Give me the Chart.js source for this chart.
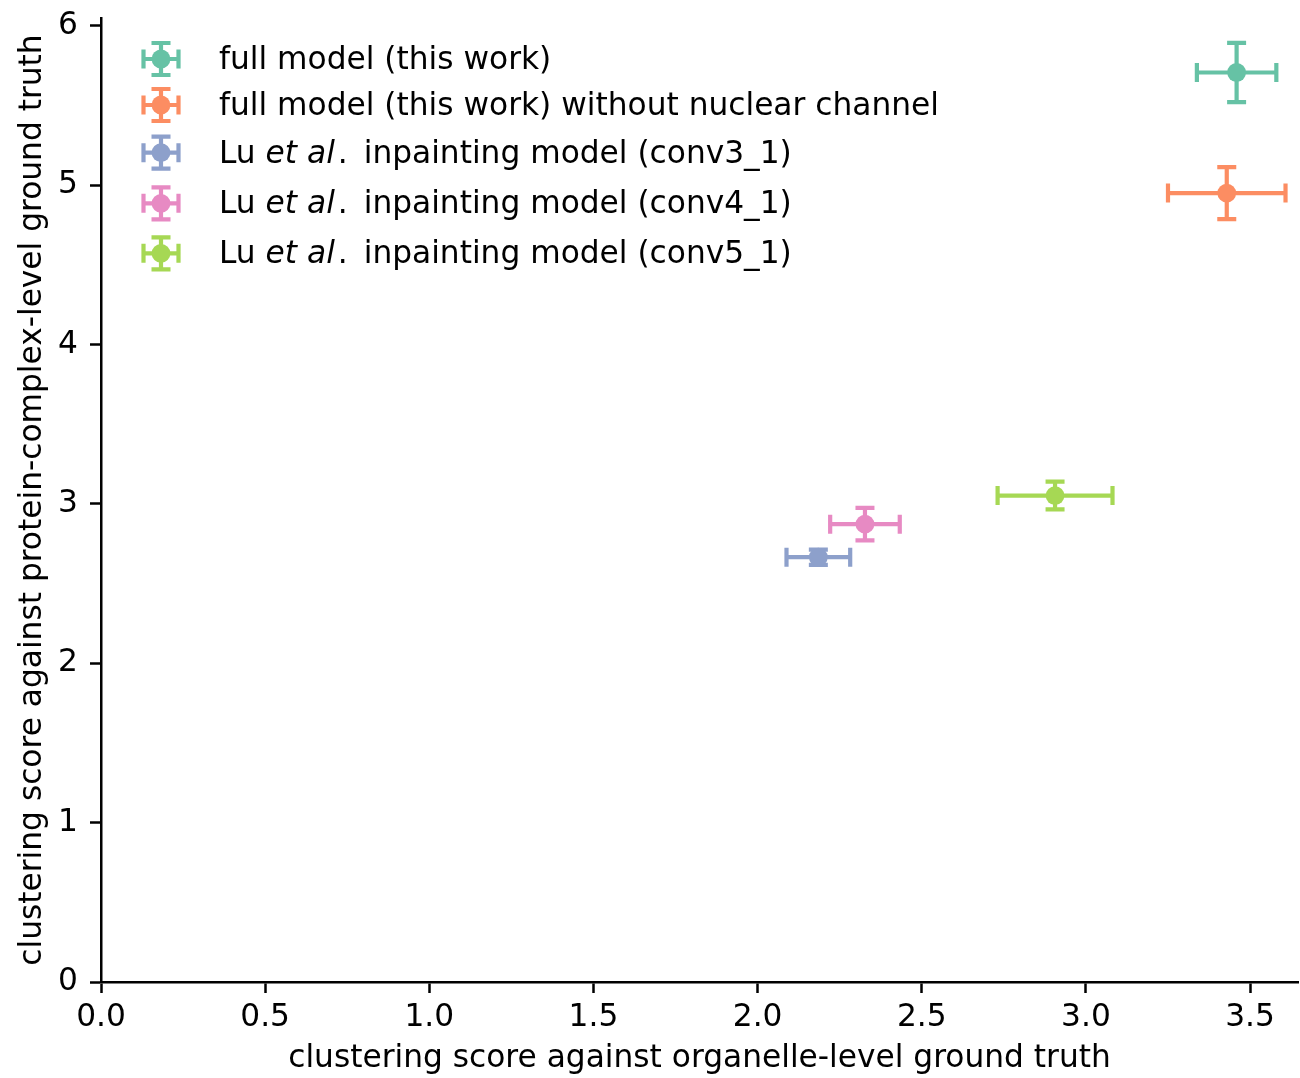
<!DOCTYPE html>
<html>
<head>
<meta charset="utf-8">
<script src="https://cdn.jsdelivr.net/npm/chart.js@4/dist/chart.umd.min.js"></script>
<style>
html,body{margin:0;padding:0;background:#fff;}
#wrap{width:1300px;height:1078px;position:relative;}
</style>
</head>
<body>
<div id="wrap"><canvas id="c" width="1300" height="1078"></canvas></div>
<script>
// ---- data ----
const seriesNames = [
  ["full model (this work)"],
  ["full model (this work) without nuclear channel"],
  ["Lu ", "et al", ".", " inpainting model (conv3_1)"],
  ["Lu ", "et al", ".", " inpainting model (conv4_1)"],
  ["Lu ", "et al", ".", " inpainting model (conv5_1)"]
];
const xValues = [3.459, 3.429, 2.185, 2.327, 2.906];
const yValues = [5.708, 4.951, 2.666, 2.873, 3.053];
const xErrors = [0.121, 0.179, 0.097, 0.106, 0.175];
const yErrors = [0.186, 0.163, 0.048, 0.102, 0.087];
const colors = ["#66c2a5", "#fc8d62", "#8da0cb", "#e78ac3", "#a6d854"];
const xTickValues = [0, 0.5, 1.0, 1.5, 2.0, 2.5, 3.0, 3.5];
const yTickValues = [0, 1, 2, 3, 4, 5, 6];
const xTitle = "clustering score against organelle-level ground truth";
const yTitle = "clustering score against protein-complex-level ground truth";

const FONT = "DejaVu Sans";
const FS = 31.25;
const LW = 4.2;
const CAP = 9.5;
const MR = 9.4;

function drawErrorbar(ctx, px, py, dxl, dxr, dyt, dyb, color) {
  ctx.save();
  ctx.strokeStyle = color;
  ctx.lineWidth = LW;
  ctx.lineCap = "butt";
  ctx.beginPath();
  ctx.moveTo(dxl, py); ctx.lineTo(dxr, py);
  ctx.moveTo(dxl, py - CAP); ctx.lineTo(dxl, py + CAP);
  ctx.moveTo(dxr, py - CAP); ctx.lineTo(dxr, py + CAP);
  ctx.moveTo(px, dyt); ctx.lineTo(px, dyb);
  ctx.moveTo(px - CAP, dyt); ctx.lineTo(px + CAP, dyt);
  ctx.moveTo(px - CAP, dyb); ctx.lineTo(px + CAP, dyb);
  ctx.stroke();
  ctx.restore();
}

const errPlugin = {
  id: "errbars",
  beforeDatasetsDraw(chart) {
    const ctx = chart.ctx, xs = chart.scales.x, ys = chart.scales.y;
    for (let i = 0; i < xValues.length; i++) {
      const px = xs.getPixelForValue(xValues[i]);
      const py = ys.getPixelForValue(yValues[i]);
      drawErrorbar(ctx, px, py,
        xs.getPixelForValue(xValues[i] - xErrors[i]),
        xs.getPixelForValue(xValues[i] + xErrors[i]),
        ys.getPixelForValue(yValues[i] + yErrors[i]),
        ys.getPixelForValue(yValues[i] - yErrors[i]), colors[i]);
    }
  }
};

const legendPlugin = {
  id: "customLegend",
  afterDraw(chart) {
    const ctx = chart.ctx;
    const mx = 161, tx = 219;
    const rowsY = [59, 105, 152.7, 203.3, 253.3];
    for (let i = 0; i < seriesNames.length; i++) {
      const y = rowsY[i];
      drawErrorbar(ctx, mx, y, mx - 17.5, mx + 17.5, y - 16, y + 16, colors[i]);
      ctx.save();
      ctx.fillStyle = colors[i];
      ctx.beginPath(); ctx.arc(mx, y, MR, 0, Math.PI * 2); ctx.fill();
      ctx.restore();
      ctx.save();
      ctx.fillStyle = "#000";
      ctx.textBaseline = "middle";
      let x = tx;
      const parts = seriesNames[i];
      parts.forEach((p, k) => {
        const italic = parts.length > 1 && k === 1;
        ctx.font = (italic ? "italic " : "") + FS + "px '" + FONT + "'";
        ctx.fillText(p, x, y + 2);
        x += ctx.measureText(p).width;
        if (italic) x += 3;
        if (parts.length > 1 && k === 2) x += 6;
      });
      ctx.restore();
    }
  }
};

const datasets = xValues.map((x, i) => ({
  label: seriesNames[i].join(""),
  data: [{x: x, y: yValues[i]}],
  backgroundColor: colors[i],
  borderColor: colors[i],
  pointRadius: MR,
  pointHoverRadius: MR,
  borderWidth: 0
}));

new Chart(document.getElementById("c"), {
  type: "scatter",
  data: { datasets },
  plugins: [errPlugin, legendPlugin],
  options: {
    responsive: false,
    animation: false,
    events: [],
    layout: { autoPadding: false, padding: { top: 18, right: 2, left: 0, bottom: 0 } },
    plugins: { legend: { display: false }, tooltip: { enabled: false } },
    scales: {
      x: {
        type: "linear",
        min: 0, max: 3.646,
        afterBuildTicks(s) { s.ticks = xTickValues.map(v => ({ value: v })); },
        afterFit(s) { s.height = 96; s.paddingLeft = 0; s.paddingRight = 0; },
        border: { display: true, color: "#000", width: 2.5 },
        grid: { display: true, drawOnChartArea: false, drawTicks: true, tickLength: 11, tickWidth: 2.5, tickColor: "#000" },
        ticks: { color: "#000", padding: 6, maxRotation: 0, autoSkip: false,
          font: { family: FONT, size: FS }, callback: v => Number(v).toFixed(1) },
        title: { display: true, text: xTitle, color: "#000", font: { family: FONT, size: FS }, padding: { top: 6, bottom: 0 } }
      },
      y: {
        type: "linear",
        min: 0, max: 6.05,
        afterBuildTicks(s) { s.ticks = yTickValues.map(v => ({ value: v })); },
        afterFit(s) { s.width = 101; s.paddingTop = 0; s.paddingBottom = 0; },
        border: { display: true, color: "#000", width: 2.5 },
        grid: { display: true, drawOnChartArea: false, drawTicks: true, tickLength: 11, tickWidth: 2.5, tickColor: "#000" },
        ticks: { color: "#000", padding: 12, autoSkip: false,
          font: { family: FONT, size: FS }, callback: v => String(v) },
        title: { display: true, text: yTitle, color: "#000", font: { family: FONT, size: FS }, padding: { top: 14, bottom: 0 } }
      }
    }
  }
});
</script>
</body>
</html>
